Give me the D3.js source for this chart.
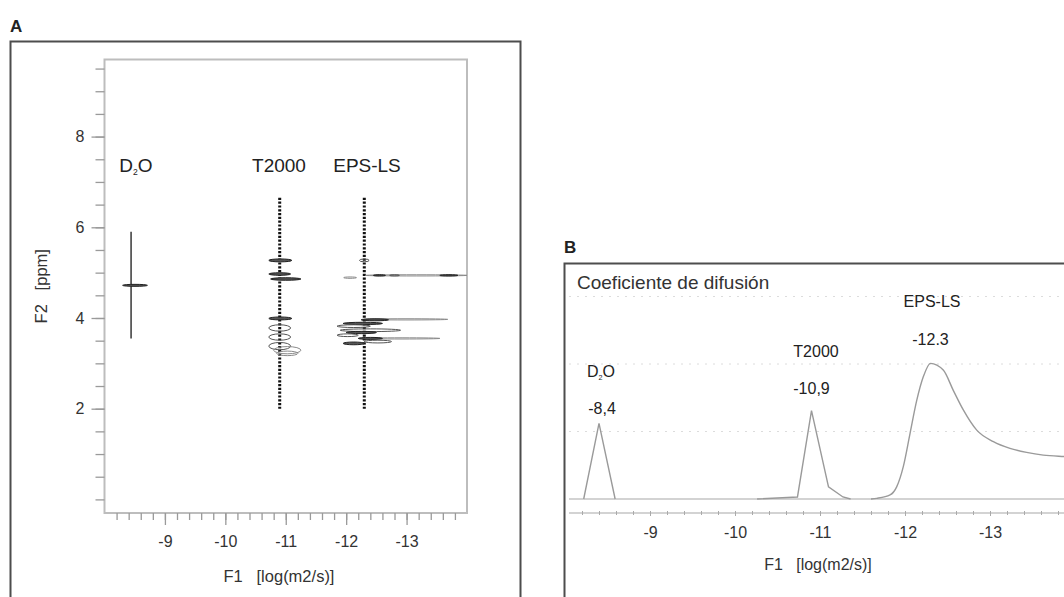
<!DOCTYPE html>
<html>
<head>
<meta charset="utf-8">
<script src="https://cdn.jsdelivr.net/npm/d3@7"></script>
<style>
  body { margin: 0; background: #fff; }
  svg { display: block; }
  text { font-family: "Liberation Sans", Arial, Helvetica, sans-serif; }
</style>
</head>
<body>
<svg id="fig" width="1064" height="597"></svg>
<script>
// ---------- data ----------
// diffusion coefficients, log(m2/s)
const species = ["D2O", "T2000", "EPS-LS"];
const logD = [-8.4, -10.9, -12.3];
const logDText = ["-8,4", "-10,9", "-12.3"];

// F1 axis ticks (log D)
const f1Major = [-9, -10, -11, -12, -13];
const f1MinorA = d3.range(41, 70).map(i => -i / 5);   // -8.2 … -13.8
const f1MinorB = d3.range(41, 73).map(i => -i / 5);   // -8.2 … -14.4
// F2 axis ticks (ppm)
const f2Ticks = d3.range(0, 20).map(i => i / 2);      // 0 … 9.5
const f2Labels = [2, 4, 6, 8];

// 2D map: D2O trace (F1, F2 range) and the residual HOD cross peak
const d2oTrace = { f1: -8.44, f2: [3.55, 5.9] };
// cross peaks: [F2 ppm, F1 start, F1 end, F2 half-width ppm, intensity level]
const d2oPeaks = [
  [4.72, -8.30, -8.71, 0.022, 3]
];
const t2000Peaks = [
  [5.27, -10.72, -11.10, 0.032, 3],
  [4.97, -10.72, -11.08, 0.028, 3],
  [4.86, -10.75, -11.25, 0.028, 3],
  [3.99, -10.72, -11.10, 0.032, 3],
  [3.78, -10.72, -11.08, 0.07, 2],
  [3.58, -10.72, -11.08, 0.07, 2],
  [3.38, -10.72, -11.08, 0.08, 2],
  [3.29, -10.80, -11.25, 0.08, 1],
  [3.22, -10.85, -11.20, 0.05, 1]
];
const epsPeaks = [
  [5.27, -12.22, -12.38, 0.03, 2],
  [4.89, -11.96, -12.17, 0.015, 1],
  [4.94, -12.32, -14.00, 0.01, 1],
  [4.94, -12.45, -12.65, 0.015, 3],
  [4.94, -12.72, -12.88, 0.012, 2],
  [4.94, -13.55, -13.85, 0.015, 3],
  [3.97, -12.30, -13.68, 0.012, 1],
  [3.96, -12.25, -12.70, 0.022, 3],
  [3.88, -11.95, -12.60, 0.025, 3],
  [3.82, -11.85, -12.40, 0.03, 2],
  [3.73, -11.90, -12.90, 0.03, 2],
  [3.68, -12.00, -12.50, 0.025, 3],
  [3.62, -11.85, -12.20, 0.03, 2],
  [3.55, -12.30, -13.55, 0.012, 1],
  [3.55, -12.20, -12.60, 0.022, 3],
  [3.48, -12.30, -12.75, 0.03, 2],
  [3.44, -11.95, -12.30, 0.03, 3]
];

// 1D diffusion projection: [log D, intensity]
const d2oCurve = [[-8.22, 0], [-8.4, 1.12], [-8.59, 0]];
const t2000Curve = [[-10.26, 0], [-10.735, 0.03], [-10.9, 1.31], [-11.10, 0.18], [-11.27, 0.03], [-11.36, 0]];
const epsCurve = [
  [-11.60, 0], [-11.667, 0.01], [-11.824, 0.06], [-11.902, 0.18], [-11.98, 0.48],
  [-12.059, 0.97], [-12.138, 1.46], [-12.215, 1.81], [-12.3, 2.01], [-12.45, 1.91],
  [-12.568, 1.61], [-12.686, 1.32], [-12.844, 1.02], [-13.04, 0.85], [-13.235, 0.75],
  [-13.43, 0.69], [-13.627, 0.65], [-13.87, 0.63], [-14.3, 0.61]
];
const gridLevels = [1, 2, 3];

// ---------- drawing ----------
const svg = d3.select("#fig");
const ink = "#222";
const axisGrey = "#bdbdbd";
const frameGrey = "#4d4d4d";
const hyphenFmt = d => String(d);   // plain hyphen-minus, as printed on the axes

// ===== Panel A =====
const A = { left: 104.5, right: 467, top: 59.5, bottom: 513 };
const xA = d3.scaleLinear().domain([-8, -14]).range([A.left, A.right]);
const yA = d3.scaleLinear().domain([-0.3, 9.7]).range([A.bottom, A.top]);

svg.append("text").attr("x", 10).attr("y", 32)
  .attr("font-size", 17).attr("font-weight", "bold").attr("fill", ink).text("A");
svg.append("path")
  .attr("d", `M10.5,600 V41.5 H520.5 V600`)
  .attr("fill", "none").attr("stroke", frameGrey).attr("stroke-width", 2);

// plot box
svg.append("rect")
  .attr("x", A.left).attr("y", A.top)
  .attr("width", A.right - A.left).attr("height", A.bottom - A.top)
  .attr("fill", "none").attr("stroke", axisGrey).attr("stroke-width", 2);

function styleAxis(g) {
  g.select(".domain").remove();
  g.selectAll(".tick line").attr("stroke", "#9a9a9a").attr("stroke-width", 1.3);
  g.selectAll(".tick text").attr("fill", "#333").attr("font-size", 16)
    .attr("font-family", '"Liberation Sans", Arial, sans-serif');
}

// x axis A
svg.append("g").attr("transform", `translate(0,${A.bottom})`)
  .call(d3.axisBottom(xA).tickValues(f1MinorA).tickSize(7).tickFormat(""))
  .call(styleAxis);
svg.append("g").attr("transform", `translate(0,${A.bottom})`)
  .call(d3.axisBottom(xA).tickValues(f1Major).tickSize(12).tickPadding(11).tickFormat(hyphenFmt))
  .call(styleAxis);

// y axis A
svg.append("g").attr("transform", `translate(${A.left},0)`)
  .call(d3.axisLeft(yA).tickValues(f2Ticks).tickSize(9).tickFormat(""))
  .call(styleAxis);
svg.append("g").attr("transform", `translate(${A.left},0)`)
  .call(d3.axisLeft(yA).tickValues(f2Labels).tickSize(13).tickPadding(7).tickFormat(hyphenFmt))
  .call(styleAxis);

svg.append("text")
  .attr("x", 279).attr("y", 582).attr("text-anchor", "middle")
  .attr("font-size", 16.5).attr("fill", "#333")
  .style("white-space", "pre")
  .text("F1   [log(m2/s)]");
svg.append("text")
  .attr("transform", `translate(47,${(A.top + A.bottom) / 2}) rotate(-90)`)
  .attr("text-anchor", "middle").attr("font-size", 16.5).attr("fill", "#333")
  .style("white-space", "pre")
  .text("F2   [ppm]");

// D2O trace
svg.append("line")
  .attr("x1", xA(d2oTrace.f1)).attr("x2", xA(d2oTrace.f1))
  .attr("y1", yA(d2oTrace.f2[1])).attr("y2", yA(d2oTrace.f2[0]))
  .attr("stroke", "#444").attr("stroke-width", 1.6);

// dotted diffusion lines
svg.append("g").selectAll("line").data(logD.slice(1)).join("line")
  .attr("x1", d => xA(d)).attr("x2", d => xA(d))
  .attr("y1", yA(6.65)).attr("y2", yA(2.0))
  .attr("stroke", "#111").attr("stroke-width", 3)
  .attr("stroke-dasharray", "2.2,1.6");

// cross peaks
const levelStyle = {
  1: { fill: "none", stroke: "#8a8a8a", width: 1 },
  2: { fill: "none", stroke: "#555", width: 1 },
  3: { fill: "#555", stroke: "#222", width: 1 }
};
function drawPeaks(data) {
  svg.append("g").selectAll("ellipse").data(data).join("ellipse")
    .attr("cx", d => (xA(d[1]) + xA(d[2])) / 2)
    .attr("cy", d => yA(d[0]))
    .attr("rx", d => Math.abs(xA(d[2]) - xA(d[1])) / 2)
    .attr("ry", d => Math.max(0.6, Math.abs(yA(d[0] + d[3]) - yA(d[0]))))
    .attr("fill", d => levelStyle[d[4]].fill)
    .attr("stroke", d => levelStyle[d[4]].stroke)
    .attr("stroke-width", d => levelStyle[d[4]].width);
}
drawPeaks(d2oPeaks);
drawPeaks(t2000Peaks);
drawPeaks(epsPeaks);

// species labels in the map
function speciesLabel(sel, name, size) {
  if (name === "D2O") {
    sel.text("D");
    sel.append("tspan").attr("font-size", size * 0.45).attr("dy", 3).text("2");
    sel.append("tspan").attr("dy", -3).text("O");
  } else sel.text(name);
}
const labelAX = [136, 279, 367];
species.forEach((s, i) => {
  const t = svg.append("text").attr("x", labelAX[i]).attr("y", 172)
    .attr("text-anchor", "middle").attr("font-size", 19).attr("fill", ink);
  speciesLabel(t, s, 19);
});

// ===== Panel B =====
const B = { left: 569, baseline: 499, axis: 513 };
const xB = d3.scaleLinear().domain([-9, -13]).range([650, 990]);
const yB = d3.scaleLinear().domain([0, 1]).range([B.baseline, B.baseline - 67.5]);

svg.append("text").attr("x", 564).attr("y", 253)
  .attr("font-size", 17).attr("font-weight", "bold").attr("fill", ink).text("B");
svg.append("path")
  .attr("d", `M564.5,600 V263.5 H1070`)
  .attr("fill", "none").attr("stroke", frameGrey).attr("stroke-width", 2);

svg.append("text").attr("x", 577).attr("y", 289)
  .attr("font-size", 19).attr("fill", "#333").text("Coeficiente de difusión");

// faint dotted grid
svg.append("g").selectAll("line").data(gridLevels).join("line")
  .attr("x1", B.left).attr("x2", 1064)
  .attr("y1", d => yB(d)).attr("y2", d => yB(d))
  .attr("stroke", "#dcdcdc").attr("stroke-width", 1)
  .attr("stroke-dasharray", "2,6");

// baseline
svg.append("line")
  .attr("x1", B.left).attr("x2", 1064).attr("y1", B.baseline).attr("y2", B.baseline)
  .attr("stroke", "#c4c4c4").attr("stroke-width", 1.6);

// x axis B
const axB = svg.append("g").attr("transform", `translate(0,${B.axis})`);
axB.append("line").attr("x1", B.left).attr("x2", 1064)
  .attr("stroke", "#c4c4c4").attr("stroke-width", 1.5);
axB.append("g")
  .call(d3.axisBottom(xB).tickValues(f1MinorB).tickSize(2).tickFormat(""))
  .call(g => { g.select(".domain").remove();
               g.selectAll(".tick line").attr("y1", -2).attr("stroke", "#aaa"); });
axB.append("g")
  .call(d3.axisBottom(xB).tickValues(f1Major).tickSize(3).tickPadding(11).tickFormat(hyphenFmt))
  .call(g => { g.select(".domain").remove();
               g.selectAll(".tick line").attr("y1", -2).attr("stroke", "#aaa");
               g.selectAll(".tick text").attr("fill", "#333").attr("font-size", 16)
                 .attr("font-family", '"Liberation Sans", Arial, sans-serif'); });

svg.append("text")
  .attr("x", 818).attr("y", 570).attr("text-anchor", "middle")
  .attr("font-size", 16).attr("fill", "#333").style("white-space", "pre")
  .text("F1   [log(m2/s)]");

// projection curves
const lin = d3.line().x(d => xB(d[0])).y(d => yB(d[1]));
const smooth = d3.line().x(d => xB(d[0])).y(d => yB(d[1])).curve(d3.curveMonotoneX);
[[d2oCurve, lin], [t2000Curve, lin], [epsCurve, smooth]].forEach(([c, gen]) => {
  svg.append("path").attr("d", gen(c))
    .attr("fill", "none").attr("stroke", "#9a9a9a").attr("stroke-width", 1.4);
});

// peak labels: name and log D
const nameY = [377, 357, 307];
const valueY = [414, 394, 345];
const labelBX = [601, 816, 932];
species.forEach((s, i) => {
  const t = svg.append("text").attr("x", labelBX[i]).attr("y", nameY[i])
    .attr("text-anchor", "middle").attr("font-size", 16).attr("fill", ink);
  speciesLabel(t, s, 16);
  svg.append("text").attr("x", xB(logD[i]) + (i === 0 ? 3 : 0)).attr("y", valueY[i])
    .attr("text-anchor", "middle").attr("font-size", 16).attr("fill", ink)
    .text(logDText[i]);
});
</script>
</body>
</html>
